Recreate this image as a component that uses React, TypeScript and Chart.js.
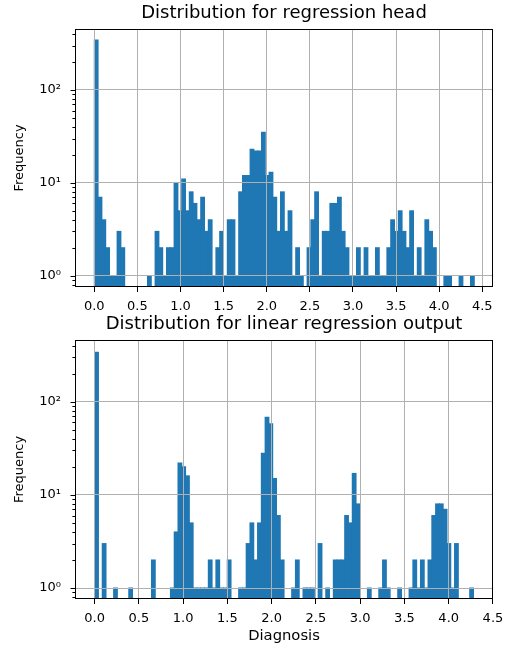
import React, { useEffect, useRef } from "react";
import { Chart, registerables } from "chart.js";

Chart.register(...registerables);

// ---------- data ----------
const headTitle = "Distribution for regression head";
const linearTitle = "Distribution for linear regression output";
const xAxisLabel = "Diagnosis";
const yAxisLabel = "Frequency";

// 100 histogram bins, starting at 0
const headBinWidth = 0.04407;
const headCounts = [
  345, 7, 4, 2, 1, 1, 3, 2, 0, 0,
  0, 0, 0, 0, 1, 0, 3, 2, 1, 2,
  2, 10, 5, 11, 5, 8, 6, 4, 7, 3,
  4, 1, 2, 3, 1, 4, 4, 1, 8, 12,
  12, 23, 22, 22, 35, 12, 13, 7, 3, 8,
  3, 5, 1, 2, 1, 0, 2, 4, 8, 1,
  3, 3, 6, 6, 7, 3, 2, 1, 1, 2,
  1, 2, 1, 1, 2, 1, 1, 2, 4, 3,
  5, 3, 2, 5, 1, 2, 1, 4, 3, 2,
  0, 0, 1, 1, 0, 0, 1, 0, 0, 1,
];

const linearBinWidth = 0.0428;
const linearCounts = [
  340, 0, 3, 0, 0, 1, 0, 0, 0, 1,
  0, 0, 0, 0, 0, 2, 0, 0, 0, 0,
  1, 4, 22, 20, 16, 5, 1, 1, 1, 1,
  2, 1, 2, 1, 1, 2, 0, 0, 1, 1,
  3, 5, 2, 5, 28, 68, 58, 15, 6, 2,
  0, 0, 1, 2, 0, 1, 1, 1, 0, 3,
  0, 1, 0, 2, 2, 2, 6, 5, 17, 8,
  0, 0, 1, 0, 0, 1, 2, 1, 0, 0,
  1, 0, 0, 1, 2, 1, 2, 1, 2, 6,
  8, 8, 7, 3, 1, 3, 0, 0, 0, 1,
];

const xTickStep = 0.5;
const yTickValues = [1, 10, 100];
const yTickLabels = ["10⁰", "10¹", "10²"];

// ---------- style ----------
const FONT = "DejaVu Sans";
const BAR = "#1f77b4";
const GRID = "#b0b0b0";

function majorIndex(v: number): number {
  for (let i = 0; i < yTickValues.length; i++) {
    if (Math.abs(v - yTickValues[i]) < 1e-6 * yTickValues[i]) return i;
  }
  return -1;
}

const framePlugin = {
  id: "frame",
  afterDraw(chart: any) {
    const { ctx, chartArea: a } = chart;
    const y = chart.scales.y;
    ctx.save();
    ctx.strokeStyle = "#000";
    ctx.lineWidth = 1;
    const lo = Math.floor(Math.log10(y.min));
    const hi = Math.ceil(Math.log10(y.max));
    for (let e = lo; e <= hi; e++) {
      for (let m = 1; m < 10; m++) {
        const v = m * Math.pow(10, e);
        if (v <= y.min || v >= y.max) continue;
        const py = Math.round(y.getPixelForValue(v)) + 0.5;
        const len = m === 1 ? 4.5 : 2.6;
        ctx.beginPath();
        ctx.moveTo(a.left, py);
        ctx.lineTo(a.left - len, py);
        ctx.stroke();
      }
    }
    ctx.strokeRect(a.left + 0.5, a.top + 0.5, a.right - a.left - 1, a.bottom - a.top - 1);
    ctx.restore();
  },
};

interface Cfg {
  counts: number[];
  binWidth: number;
  title: string;
  xLabel: string | null;
  xMin: number;
  xMax: number;
  yMin: number;
  yMax: number;
  xAxisHeight: number;
}

function makeConfig(c: Cfg): any {
  const data = c.counts.map((n, i) => ({ x: (i + 0.5) * c.binWidth, y: n > 0 ? n : null }));
  return {
    type: "bar",
    data: {
      datasets: [
        {
          data,
          backgroundColor: BAR,
          borderWidth: 0,
          inflateAmount: 0.5,
          barPercentage: 1,
          categoryPercentage: 1,
        },
      ],
    },
    options: {
      animation: false,
      responsive: false,
      events: [],
      layout: { padding: { left: 0, right: 19, top: 0, bottom: 0 } },
      plugins: {
        legend: { display: false },
        tooltip: { enabled: false },
        title: {
          display: true,
          text: c.title,
          fullSize: false,
          color: "#000",
          font: { family: FONT, size: 18, weight: "normal", lineHeight: 1 },
          padding: { top: 4.3, bottom: 6.7 },
        },
      },
      scales: {
        x: {
          type: "linear",
          min: c.xMin,
          max: c.xMax,
          offset: false,
          afterFit: (s: any) => {
            s.height = c.xAxisHeight;
          },
          grid: { color: GRID, lineWidth: 1, tickColor: "#000", tickLength: 5, z: 1, offset: false },
          border: { display: false },
          ticks: {
            stepSize: xTickStep,
            includeBounds: false,
            autoSkip: false,
            maxRotation: 0,
            minRotation: 0,
            padding: 6.5,
            color: "#000",
            font: { family: FONT, size: 13 },
            callback: (v: any) => Number(v).toFixed(1),
          },
          title: c.xLabel
            ? {
                display: true,
                text: c.xLabel,
                color: "#000",
                font: { family: FONT, size: 14.75 },
                padding: { top: 0, bottom: 4.75 },
              }
            : { display: false },
        },
        y: {
          type: "logarithmic",
          min: c.yMin,
          max: c.yMax,
          afterFit: (s: any) => {
            s.width = 75;
          },
          grid: {
            color: (ctx: any) => (ctx.tick && majorIndex(ctx.tick.value) >= 0 ? GRID : "rgba(0,0,0,0)"),
            lineWidth: 1,
            drawTicks: false,
            z: 1,
          },
          border: { display: false },
          ticks: {
            autoSkip: false,
            padding: 14,
            color: "#000",
            font: { family: FONT, size: 13 },
            callback: (v: any) => {
              const i = majorIndex(Number(v));
              return i >= 0 ? yTickLabels[i] : "";
            },
          },
          title: {
            display: true,
            text: yAxisLabel,
            color: "#000",
            font: { family: FONT, size: 13 },
            padding: { top: 11.7, bottom: 0 },
          },
        },
      },
    },
    plugins: [framePlugin],
  };
}

function HistChart(props: { cfg: Cfg; top: number; height: number }) {
  const ref = useRef<HTMLCanvasElement | null>(null);
  useEffect(() => {
    if (!ref.current) return;
    const chart = new Chart(ref.current, makeConfig(props.cfg));
    return () => chart.destroy();
  }, []);
  return (
    <canvas
      ref={ref}
      width={512}
      height={props.height}
      style={{ position: "absolute", left: 0, top: props.top, width: 512, height: props.height, display: "block" }}
    />
  );
}

export default function App() {
  const topCfg: Cfg = {
    counts: headCounts,
    binWidth: headBinWidth,
    title: headTitle,
    xLabel: null,
    xMin: -0.2238,
    xMax: 4.624,
    yMin: 0.755,
    yMax: 454,
    xAxisHeight: 24,
  };
  const bottomCfg: Cfg = {
    counts: linearCounts,
    binWidth: linearBinWidth,
    title: linearTitle,
    xLabel: xAxisLabel,
    xMin: -0.222,
    xMax: 4.5005,
    yMin: 0.762,
    yMax: 460,
    xAxisHeight: 51,
  };
  return (
    <div style={{ position: "absolute", left: 0, top: 0, width: 512, height: 650, background: "#fff" }}>
      <HistChart cfg={topCfg} top={0} height={311} />
      <HistChart cfg={bottomCfg} top={311} height={339} />
    </div>
  );
}
